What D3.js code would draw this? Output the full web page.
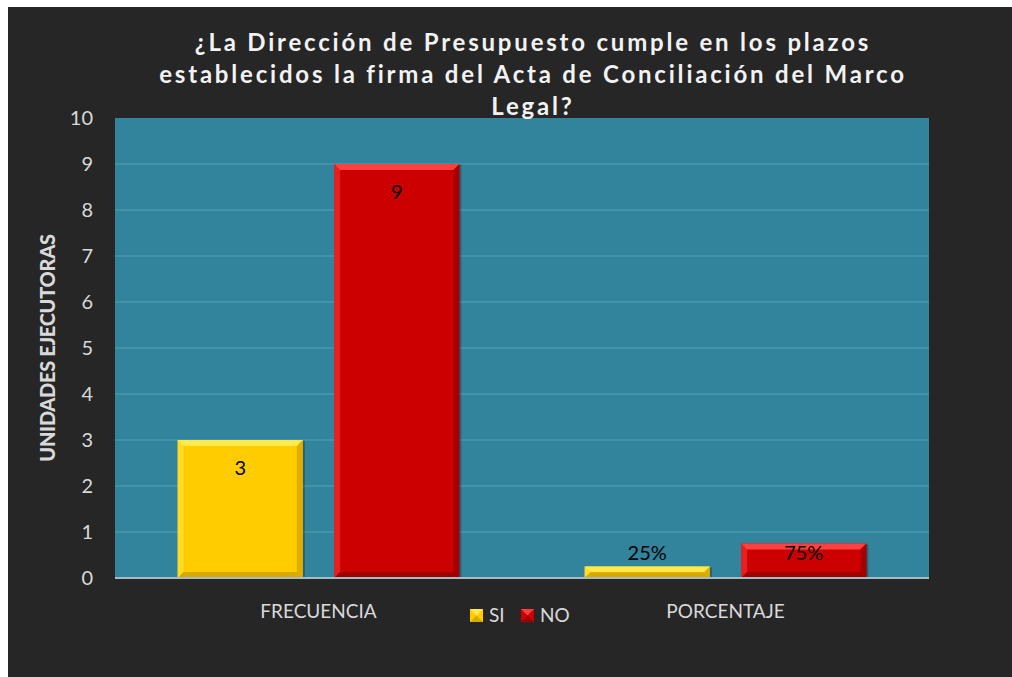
<!DOCTYPE html>
<html>
<head>
<meta charset="utf-8">
<script src="https://cdn.jsdelivr.net/npm/d3@7"></script>
<style>
  body { margin: 0; background: #fff; }
  svg { display: block; }
  text { font-family: Lato, "Open Sans", sans-serif; }
</style>
</head>
<body>
<svg id="chart" width="1012" height="677"></svg>
<script>
// datos del gráfico
const categorias = ["FRECUENCIA", "PORCENTAJE"];
const series = ["SI", "NO"];
const valoresSI = [3, 0.25];
const valoresNO = [9, 0.75];
const etiquetasSI = ["3", "25%"];
const etiquetasNO = ["9", "75%"];
const tituloLineas = [
    "¿La Dirección de Presupuesto cumple en los plazos",
    "establecidos la firma del Acta de Conciliación del Marco",
    "Legal?"
];
const yTicks = [0, 1, 2, 3, 4, 5, 6, 7, 8, 9, 10];

const colores = { SI: "#ffcc00", NO: "#cc0000" };
const claros = { SI: "#ffe94d", NO: "#ff4040" };
const oscuros = { SI: "#c89a00", NO: "#8a0000" };

const svg = d3.select("#chart");

// fondo oscuro
svg.append("rect")
    .attr("x", 8).attr("y", 7)
    .attr("width", 1004).attr("height", 670)
    .attr("fill", "#262626");

const plot = { left: 115, right: 929, top: 118, bottom: 578 };

// área de trazado
svg.append("rect")
    .attr("x", plot.left).attr("y", plot.top)
    .attr("width", plot.right - plot.left)
    .attr("height", plot.bottom - plot.top)
    .attr("fill", "#31849b");

const x0 = d3.scaleBand().domain(categorias).range([plot.left, plot.right]);
const x1 = d3.scaleBand().domain(series).range([0, x0.bandwidth()])
    .paddingInner(0.2).paddingOuter(0.4);
const y = d3.scaleLinear().domain([0, 10]).range([plot.bottom, plot.top]);

// líneas de cuadrícula
svg.append("g")
    .selectAll("line")
    .data(yTicks.filter(d => d > 0 && d < 10))
    .join("line")
    .attr("x1", plot.left).attr("x2", plot.right)
    .attr("y1", d => y(d)).attr("y2", d => y(d))
    .attr("stroke", "#4a98ad")
    .attr("stroke-width", 1.5);

// eje Y
const yAxis = svg.append("g")
    .attr("transform", `translate(${plot.left},0)`)
    .call(d3.axisLeft(y).tickValues(yTicks).tickSize(0).tickPadding(22));
yAxis.select(".domain").remove();
yAxis.selectAll("text")
    .attr("fill", "#d9d9d9")
    .style("font-size", "20px")
    .style("font-family", "Lato, sans-serif");

// barras
const datos = [];
categorias.forEach((c, i) => {
    datos.push({ cat: c, serie: "SI", valor: valoresSI[i], etiqueta: etiquetasSI[i] });
    datos.push({ cat: c, serie: "NO", valor: valoresNO[i], etiqueta: etiquetasNO[i] });
});

const bev = 6;
const barras = svg.append("g").selectAll("g").data(datos).join("g");

barras.each(function(d) {
    const g = d3.select(this);
    const bx = x0(d.cat) + x1(d.serie);
    const bw = x1.bandwidth();
    const by = y(d.valor);
    const bh = y(0) - by;
    const b = Math.min(bev, bh / 2);

    // sombra
    g.append("rect")
        .attr("x", bx + 2).attr("y", by + 1)
        .attr("width", bw).attr("height", bh - 1)
        .attr("fill", "rgba(0,0,0,0.25)");

    g.append("rect")
        .attr("x", bx).attr("y", by)
        .attr("width", bw).attr("height", bh)
        .attr("fill", colores[d.serie]);

    // bisel superior
    g.append("polygon")
        .attr("points", [[bx, by], [bx + bw, by], [bx + bw - b, by + b], [bx + b, by + b]].join(" "))
        .attr("fill", claros[d.serie]);
    // bisel izquierdo
    g.append("polygon")
        .attr("points", [[bx, by], [bx + b, by + b], [bx + b, by + bh - b], [bx, by + bh]].join(" "))
        .attr("fill", claros[d.serie]).attr("opacity", 0.5);
    // bisel derecho
    g.append("polygon")
        .attr("points", [[bx + bw, by], [bx + bw, by + bh], [bx + bw - b, by + bh - b], [bx + bw - b, by + b]].join(" "))
        .attr("fill", oscuros[d.serie]).attr("opacity", 0.6);
    // bisel inferior
    g.append("polygon")
        .attr("points", [[bx, by + bh], [bx + b, by + bh - b], [bx + bw - b, by + bh - b], [bx + bw, by + bh]].join(" "))
        .attr("fill", oscuros[d.serie]).attr("opacity", 0.7);

    // etiqueta de datos
    g.append("text")
        .attr("x", bx + bw / 2)
        .attr("y", Math.min(by + 28, y(0) - 25) + 7)
        .attr("text-anchor", "middle")
        .attr("fill", "#000")
        .style("font-size", "20px")
        .text(d.etiqueta);
});

// línea del eje X
svg.append("line")
    .attr("x1", plot.left).attr("x2", plot.right)
    .attr("y1", plot.bottom).attr("y2", plot.bottom)
    .attr("stroke", "#a6bcc4")
    .attr("stroke-width", 2);

// etiquetas de categoría
svg.append("g").selectAll("text")
    .data(categorias)
    .join("text")
    .attr("x", d => x0(d) + x0.bandwidth() / 2)
    .attr("y", 618)
    .attr("text-anchor", "middle")
    .attr("fill", "#d9d9d9")
    .style("font-size", "19px")
    .text(d => d);

// leyenda
const leyenda = svg.append("g").attr("transform", "translate(470,609)");
series.forEach((s, i) => {
    const lx = i * 51;
    const lg = leyenda.append("g").attr("transform", `translate(${lx},0)`);
    lg.append("rect").attr("width", 13).attr("height", 13).attr("fill", colores[s]);
    lg.append("polygon").attr("points", "0,0 13,0 6.5,6.5").attr("fill", claros[s]);
    lg.append("polygon").attr("points", "0,13 13,13 6.5,6.5").attr("fill", oscuros[s]).attr("opacity", 0.7);
    lg.append("text")
        .attr("x", 19).attr("y", 13)
        .attr("fill", "#d9d9d9")
        .style("font-size", "19px")
        .text(s);
});

// título
svg.append("g").selectAll("text")
    .data(tituloLineas)
    .join("text")
    .attr("x", 533)
    .attr("y", (d, i) => 51 + i * 32)
    .attr("text-anchor", "middle")
    .attr("fill", "#f2f2f2")
    .style("font-size", "24px")
    .style("font-weight", "bold")
    .style("letter-spacing", "2.8px")
    .text(d => d);

// título eje Y
svg.append("text")
    .attr("transform", "translate(55,348) rotate(-90)")
    .attr("text-anchor", "middle")
    .attr("fill", "#d9d9d9")
    .style("font-size", "20px")
    .style("font-weight", "900")
    .style("letter-spacing", "-0.3px")
    .text("UNIDADES EJECUTORAS");
</script>
</body>
</html>
